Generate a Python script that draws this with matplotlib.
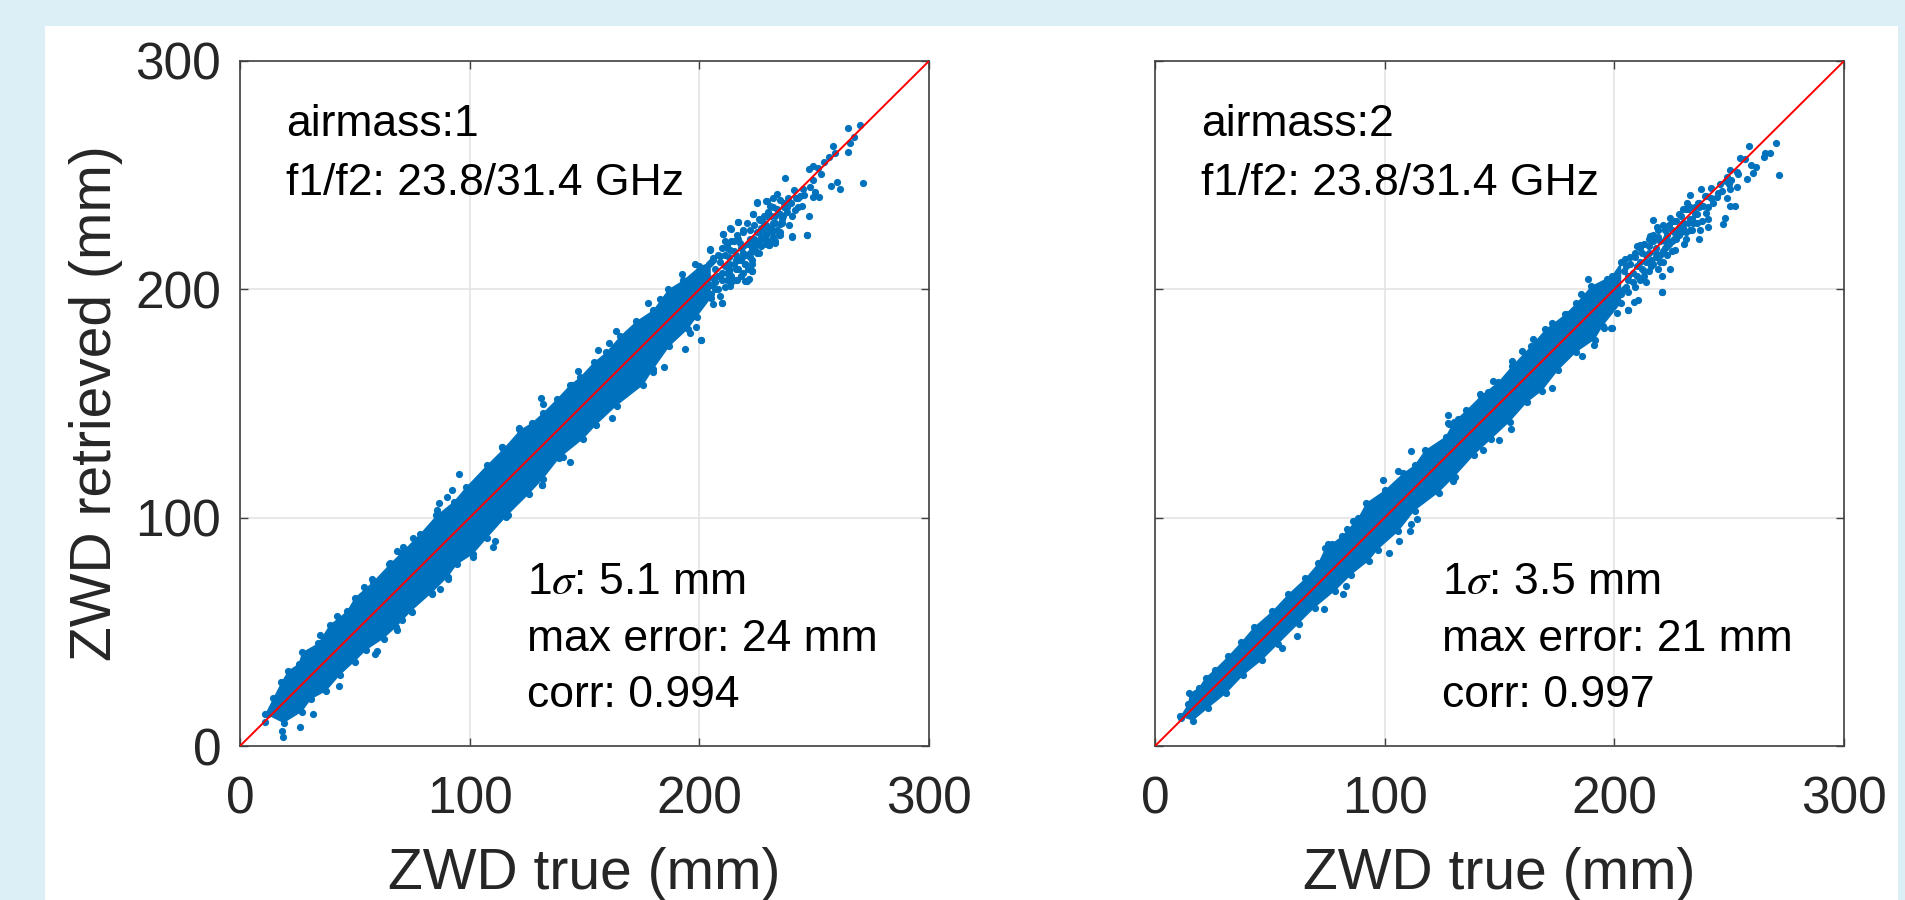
import numpy as np
import matplotlib
matplotlib.use('Agg')
import matplotlib.pyplot as plt
from matplotlib.patches import Rectangle

plt.rcParams['font.family'] = ['Liberation Sans', 'DejaVu Sans']
plt.rcParams['mathtext.fontset'] = 'stix'

# ticks and text
ticks = [0, 100, 200, 300]
label_x = 'ZWD true (mm)'
label_y = 'ZWD retrieved (mm)'
text_top_1 = ['airmass:1', 'f1/f2: 23.8/31.4 GHz']
text_top_2 = ['airmass:2', 'f1/f2: 23.8/31.4 GHz']
text_low_1 = ['1$\\sigma$: 5.1 mm', 'max error: 24 mm', 'corr: 0.994']
text_low_2 = ['1$\\sigma$: 3.5 mm', 'max error: 21 mm', 'corr: 0.997']

# edge of the solid part of the cloud, airmass 1
upper_1 = [(11, 14), (14.5, 21), (18, 28), (21, 33), (25.5, 36), (27, 41), (34, 45),
           (39, 53), (46.5, 59), (50, 65), (58, 72), (65, 79.5), (70, 84.5), (78.5, 93),
           (85.5, 101), (93, 107), (98.5, 113.5), (107.5, 123), (114.5, 130), (122, 138.5),
           (127, 141.5), (132, 146), (138, 152), (143.5, 158), (148, 161.5), (154, 168),
           (159.5, 172.5), (165.5, 179.5), (172.5, 186), (180, 191), (186.5, 200), (193, 204),
           (200, 210), (205, 212)]
lower_1 = [(19, 10), (27, 15), (31, 20.5), (37.5, 24), (43.5, 31), (50, 37), (55, 42),
           (62.5, 47), (68, 52), (74.5, 59), (83.5, 67), (90.5, 74), (94.5, 79.5), (101.5, 84),
           (107.5, 91), (116, 100.5), (126, 110.5), (132, 117), (139, 126), (149.5, 134.5),
           (155, 140.5), (164, 149), (175.5, 158), (180, 165), (187, 175), (195, 182.5),
           (199, 188), (205, 196)]

# single points outside the solid part, airmass 1
x1 = [95.4, 92.2, 90, 86.6, 85.6, 42.4, 34.8, 54, 57.3, 68.5, 71.1, 75.2, 65.3, 26.1, 18.6,
      18.1, 31.6, 43.3, 58.8, 59.8, 68.2, 70.5, 75, 83.5, 87.1, 90.6, 101.6, 110.3, 110.9,
      116.8, 131.3, 114.2, 121.6, 12, 10.9,
      130.9, 132.1, 121.6, 114.2, 147.3, 144.4, 156, 160.7, 163.6, 177.5, 183, 192.3, 198.1,
      204.6, 210.2, 161.8, 143.7, 140.8, 131.4, 184.8, 180, 193.6, 200.6, 195.9, 198.4, 209.7,
      220.6, 222.8, 213.4, 216.7, 225, 223.2, 229, 240.2, 246.7, 235.1, 232.9, 230.5,
      264.9, 270, 267.4, 265.6, 264.7, 258.2, 258.9, 256.5, 254.3, 249.4, 247.8, 251.8, 237.3,
      271.4, 259.8, 257.2, 261.3, 252.8, 249.6, 248.2, 250.4, 249.6, 252, 245, 241.4, 245.7,
      243.1, 238.8, 234, 232, 229.3, 225, 235.1, 230.8, 244.6, 241.7, 240.2, 247.8, 223.2,
      229.3, 236.6, 235.1, 226.4, 216.7, 220.6, 213.7, 219.2, 210.3, 216.3, 229.3, 234.8,
      240.2, 246.9, 231.5, 232.9, 230.5, 223.5, 211.2, 204.7, 206.1, 224.2, 222.8, 221.8,
      219.9, 209.7, 206.1, 213.4, 216.3, 209, 213.4, 219.2, 217.7, 200.7,
      201, 203, 204, 205, 207, 208, 209, 210, 211, 212, 213, 214, 215, 216, 217, 218, 219, 220,
      221, 222, 223, 224, 225, 226, 227, 228, 229, 230, 231, 232, 233, 234, 235, 236, 237, 238,
      240, 239, 242, 243, 244, 207, 210, 213, 216, 219, 222, 226, 229, 208, 212, 215]
y1 = [119, 111.9, 108.9, 106.6, 103.5, 56.9, 48.6, 69.7, 73.3, 85.3, 87.1, 90.9, 80, 8.3, 4.1,
      6.7, 13.9, 26.3, 40.3, 41.4, 50.9, 55.4, 58.8, 66.5, 68.9, 73, 82.9, 87.2, 89.7,
      101, 114.4, 131.1, 139.3, 14.2, 10.6,
      152.6, 149.7, 139, 131, 164.1, 158.2, 173.3, 176.3, 181.8, 193.9, 195.9, 206.5, 211.1,
      217.5, 224.2, 143.5, 124.2, 126.6, 114.3, 166, 163.7, 173.8, 177.6, 180.8, 183.7, 193.9,
      203.6, 208.2, 226.8, 229.3, 238.1, 232.9, 238.9, 223.2, 223.9, 223.9, 220.3, 219.5,
      270.7, 272, 266.8, 263.9, 260.2, 262.8, 259.5, 257.8, 255.7, 254, 252.5, 253, 248.9,
      246.7, 246.9, 245.1, 244, 250.5, 247.9, 245, 242.8, 240.6, 240.6, 244.1, 243.5, 241.1,
      239.9, 239.9, 241.8, 239.9, 238.9, 238, 239.2, 236.3, 236.3, 234.8, 231.9, 232.2, 233,
      231.9, 231.9, 228.7, 230.5, 229.3, 229, 226.6, 226.1, 224.2, 224, 225.4, 224,
      222.9, 223.8, 225, 221, 219.3, 221.8, 221, 217.4, 213.8, 217.1, 208, 204.6,
      203.6, 194.2, 193.5, 201.4, 204, 214.5, 217.4, 214.5, 220.3, 177.8,
      208, 199, 211, 202, 209, 200, 212, 204, 215, 207, 211, 203, 217, 209, 213, 206, 219, 211,
      215, 222, 213, 219, 225, 216, 223, 229, 220, 226, 232, 223, 229, 235, 225, 231, 236, 234,
      238, 228, 240, 236, 241, 203, 207, 209, 213, 216, 216, 221, 225, 206, 218, 221]

# thick part of the tail, airmass 1
tail_x1 = [205, 206, 206, 207, 208, 209, 209, 210, 211, 211, 212, 212, 213, 213, 214, 214, 215,
           216, 216, 217, 217, 218, 218, 219, 219, 220, 220, 221, 221, 222, 222, 223, 223, 224,
           224, 225, 225, 226, 226, 227, 227, 228, 228, 229, 229, 230, 230, 231, 232, 232, 233,
           234, 235, 236, 237, 238]
tail_y1 = [198, 205, 213, 200, 215, 197, 206, 218, 201, 210, 204, 219, 208, 214, 206, 221, 211,
           204, 215, 209, 222, 213, 218, 207, 225, 215, 211, 209, 220, 226, 214, 211, 218, 222,
           228, 216, 220, 225, 231, 219, 227, 222, 232, 224, 228, 221, 234, 227, 229, 236, 232,
           226, 233, 229, 238, 236]

# edge of the solid part of the cloud, airmass 2
upper_2 = [(11, 13), (14.5, 18.5), (15, 23), (19, 25.5), (22, 30), (26, 33.5), (32, 39.5),
           (37.5, 45.5), (43, 52), (51, 59), (58, 66.5), (65.5, 73.5), (71, 80), (74, 86.5),
           (81.5, 92), (88.5, 100), (92, 106.5), (100, 112), (108, 119.5), (113, 123),
           (117.5, 129.5), (126.5, 135.5), (130, 142), (135.5, 147), (142, 153.5), (149.5, 159.5),
           (155.5, 166.5), (163.5, 175), (170, 182.5), (178.5, 189), (183.5, 194), (190, 201.5),
           (199, 206), (203, 212)]
lower_2 = [(16.5, 11), (23, 16.5), (31, 23), (38.5, 31), (46.5, 37.5), (53.5, 44.5), (62.5, 53.5),
           (69.5, 60.5), (78.5, 68), (85.5, 75), (93, 81), (97, 86), (106, 94), (113, 103),
           (123.5, 111), (130.5, 118), (139, 127.5), (146.5, 134.5), (154.5, 142),
           (162, 150.5), (168.5, 155.5), (175.5, 164.5), (183.5, 172.5), (191.5, 178), (195, 184),
           (203, 194)]

# single points outside the solid part, airmass 2
x2 = [111.5, 105.7, 99.4, 83.7, 75.2, 77.2, 86.4, 11.3, 55.2, 61.7, 73.7, 82, 83.3, 102, 106.4,
      111, 111.5, 113.9, 129.6, 128,
      127.7, 127.7, 132.1, 147.3, 141.5, 145.1, 155.3, 159.6, 164.7, 172.7, 179.2, 185.5, 188.4,
      149.8, 155, 142.7, 186.1, 191.1, 198.8, 206.1, 220.6, 172.7,
      258.6, 270.5, 267.7, 265.5, 265, 254.7, 256.8, 259.4, 261.8, 250.2, 253.5, 253.9, 260.3,
      257.6, 271.9, 248.6, 251, 253.2, 250.3, 242.3, 237.8, 244.5, 232.9, 239.4, 248.9, 231.7,
      250.3, 252.5, 230, 236.5, 238.7, 240.1, 216.9, 224.2, 225.6, 248.1, 247.4, 240.9, 240.6,
      218.4, 232.9, 230, 237.2, 236.8, 215.5, 234.3, 230.4, 226.4, 209.7, 224.2, 220.6, 214,
      220.6, 210.4, 208.6, 206, 198.6, 195.4, 201, 227.8, 222.7, 211.1, 204.6, 196.6,
      201, 203, 204, 205, 207, 208, 209, 210, 212, 213, 214, 215, 216, 217, 218, 219, 220, 221,
      222, 223, 224, 225, 226, 227, 228, 229, 230, 231, 232, 233, 234, 235, 236, 237, 238, 240,
      241, 242, 243, 245, 246, 247, 249, 250, 206, 211, 215, 218, 222, 226]
y2 = [129.4, 120.4, 116.7, 95.2, 88.5, 88.5, 98.4, 12.3, 43, 48, 59.9, 66.5, 70, 84.5, 89.7,
      94, 97.2, 99.4, 116.1, 141.2,
      144.9, 141.6, 143.1, 159.9, 154.1, 155.2, 168.8, 173.1, 178.2, 185.4, 189.1, 198.1, 204.7,
      134.2, 139, 129.6, 170.6, 175.6, 183.1, 191.1, 198.7, 156.7,
      262.7, 263.9, 259.9, 259.9, 258, 257.3, 257, 254.3, 253.6, 252.2, 251.5, 250.5, 250.8,
      248.5, 250.1, 247.6, 247.9, 245, 244, 244.4, 244.1, 240.6, 241.4, 240.9, 239.9, 238,
      236.3, 236.7, 235.3, 237.7, 236.3, 233.4, 230.5, 231.4, 229.8, 231.2, 228.6, 227.1, 230.8,
      227.1, 226.1, 229, 226.1, 222.2, 223.2, 229, 219.9, 217.1, 218.9, 208.7, 205.8, 203.3,
      198.7, 195.2, 194.5, 191.1, 183, 183, 189.8, 224.7, 222.5, 219.6, 213.1, 204.4,
      205, 198, 208, 201, 211, 203, 214, 206, 216, 208, 212, 219, 210, 221, 214, 223, 212, 217,
      226, 219, 228, 221, 225, 230, 224, 232, 227, 222, 235, 231, 226, 236, 233, 238, 230, 241,
      236, 240, 238, 242, 246, 243, 249, 246, 206, 212, 216, 216, 221, 222]

# thick part of the tail, airmass 2
tail_x2 = [204, 205, 206, 206, 207, 208, 209, 209, 210, 211, 211, 212, 213, 213, 214, 215, 215,
           216, 217, 217, 218, 219, 219, 220, 220, 221, 221, 222, 223, 223, 224, 225, 225, 226,
           227, 228, 228, 229, 230, 231, 231, 232, 233, 234, 235, 236, 237]
tail_y2 = [200, 210, 199, 204, 214, 207, 201, 216, 210, 204, 218, 209, 206, 220, 215, 208, 222,
           213, 211, 224, 218, 209, 226, 215, 221, 212, 228, 218, 215, 224, 220, 226, 217, 230,
           222, 227, 233, 225, 229, 225, 235, 229, 236, 231, 233, 229, 236]

W, H = 1906, 900
blue = '#0072BD'
dark = '#262626'


def panel(left_px, upper, lower, x, y, tail_x, tail_y, text_top, text_low, show_y):
    ax = fig.add_axes([left_px / W, (H - 746) / H, 689 / W, 685 / H])
    ax.set_facecolor('white')
    ax.set_xlim(0, 300)
    ax.set_ylim(0, 300)
    ax.set_xticks(ticks)
    ax.set_yticks(ticks)
    ax.grid(True, color='#e2e2e2', lw=1.1)
    ax.set_axisbelow(True)
    ax.tick_params(direction='in', length=6, width=1, top=True, right=True,
                   color='#404040', labelcolor=dark, labelsize=37)
    ax.tick_params(axis='x', pad=21.5)
    ax.tick_params(axis='y', pad=13.5)
    for s in ax.spines.values():
        s.set_color('#404040')
        s.set_linewidth(1.2)

    # solid band and then the points, same colour
    edge = upper + lower[::-1]
    ax.fill([p[0] for p in edge], [p[1] for p in edge], color=blue, lw=0, zorder=3)
    ax.scatter([p[0] for p in edge], [p[1] for p in edge], s=27, color=blue, lw=0, zorder=3)
    ax.scatter(x, y, s=27, color=blue, lw=0, zorder=3)
    ax.scatter(tail_x, tail_y, s=27, color=blue, lw=0, zorder=3)
    ax.plot([0, 300], [0, 300], color='#ff0000', lw=1.4, zorder=4)

    for t, yy in zip(text_top, [267, 241.2]):
        ax.text(20, yy, t, fontsize=32, color='black', va='baseline', zorder=5)
    for t, yy in zip(text_low, [66.6, 41.8, 17]):
        ax.text(124.8, yy, t, fontsize=32, color='black', va='baseline', zorder=5)

    ax.set_xlabel(label_x, fontsize=41, color=dark, labelpad=16)
    if show_y:
        ax.set_ylabel(label_y, fontsize=41, color=dark, labelpad=9)
    else:
        ax.set_yticklabels([])
    return ax


fig = plt.figure(figsize=(W / 100, H / 100), dpi=100, facecolor='#DCEFF7')
fig.patches.append(Rectangle((45 / W, 0), (1898 - 45) / W, (H - 26) / H, transform=fig.transFigure,
                             facecolor='white', edgecolor='none', figure=fig, zorder=-1))

panel(240, upper_1, lower_1, x1, y1, tail_x1, tail_y1, text_top_1, text_low_1, True)
panel(1155, upper_2, lower_2, x2, y2, tail_x2, tail_y2, text_top_2, text_low_2, False)

fig.savefig('out.png', dpi=100, facecolor=fig.get_facecolor())
